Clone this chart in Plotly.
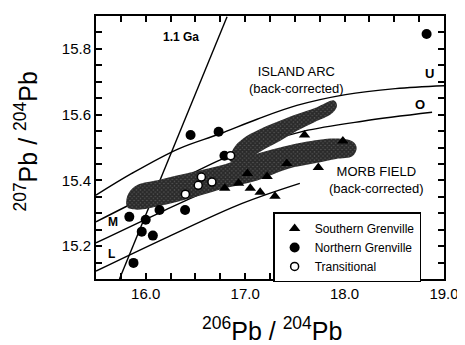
import plotly.graph_objects as go

# ---------------- data ----------------
# growth curves (206Pb/204Pb, 207Pb/204Pb)
u_x = [15.50, 15.86, 16.33, 16.74, 17.12, 17.52, 18.01, 18.51, 19.00]
u_y = [15.355, 15.421, 15.496, 15.541, 15.586, 15.628, 15.661, 15.679, 15.688]
o_x = [15.50, 16.15, 16.80, 17.22, 17.59, 18.18, 18.88]
o_y = [15.274, 15.373, 15.469, 15.517, 15.550, 15.580, 15.607]
m_x = [15.50, 16.15, 16.60, 16.95]
m_y = [15.210, 15.303, 15.365, 15.405]
l_x = [15.50, 16.23, 16.97, 17.55]
l_y = [15.124, 15.229, 15.330, 15.391]
iso_x = [15.736, 16.818]
iso_y = [15.100, 15.898]

# fields (outlines)
morb_x = [15.805, 15.835, 15.914, 16.151, 16.478, 16.805, 16.973, 17.320, 17.587,
          17.914, 18.082, 18.122, 18.082, 17.914, 17.686, 17.419, 17.122, 16.825,
          16.478, 16.151, 15.914, 15.815, 15.805]
morb_y = [15.340, 15.365, 15.386, 15.403, 15.426, 15.450, 15.468, 15.498, 15.516,
          15.527, 15.518, 15.499, 15.474, 15.465, 15.451, 15.434, 15.400, 15.378,
          15.348, 15.323, 15.311, 15.318, 15.340]
arc_x = [16.845, 16.884, 16.973, 17.152, 17.488, 17.716, 17.894, 17.924, 17.875,
         17.697, 17.518, 17.350, 17.201, 17.072, 16.973, 16.845]
arc_y = [15.460, 15.498, 15.526, 15.556, 15.598, 15.622, 15.643, 15.628, 15.604,
         15.577, 15.550, 15.520, 15.496, 15.472, 15.454, 15.460]

# samples
south_x = [17.597, 17.983, 17.736, 16.795, 16.934, 17.052, 17.151, 17.300, 17.221, 17.419, 17.023]
south_y = [15.538, 15.520, 15.439, 15.376, 15.391, 15.376, 15.364, 15.352, 15.412, 15.451, 15.421]
north_x = [16.451, 16.733, 16.792, 15.835, 16.000, 15.960, 16.072, 15.877, 16.139, 16.396, 18.825]
north_y = [15.538, 15.548, 15.475, 15.289, 15.280, 15.244, 15.232, 15.149, 15.310, 15.310, 15.845]
trans_x = [16.399, 16.528, 16.560, 16.666, 16.854]
trans_y = [15.358, 15.385, 15.410, 15.395, 15.475]

x_ticks = [16.0, 17.0, 18.0, 19.0]
y_ticks = [15.2, 15.4, 15.6, 15.8]

FONT = "Liberation Sans, Arial, sans-serif"

fig = go.Figure()

line_style = dict(color="black", width=1.4)
for cx, cy in [(u_x, u_y), (o_x, o_y), (m_x, m_y), (l_x, l_y), (iso_x, iso_y)]:
    fig.add_trace(go.Scatter(x=cx, y=cy, mode="lines", line=dict(**line_style, shape="spline"),
                             showlegend=False, hoverinfo="skip"))

for fx, fy in [(morb_x, morb_y), (arc_x, arc_y)]:
    fig.add_trace(go.Scatter(
        x=fx, y=fy, mode="lines", fill="toself", line=dict(width=0, shape="spline"),
        fillcolor="#111111",
        fillpattern=dict(shape="x", fgcolor="#000000", bgcolor="#555555", size=3, solidity=0.8),
        showlegend=False, hoverinfo="skip"))

fig.add_trace(go.Scatter(x=south_x, y=south_y, mode="markers", name="Southern Grenville",
                         marker=dict(symbol="triangle-up", size=10, color="black")))
fig.add_trace(go.Scatter(x=north_x, y=north_y, mode="markers", name="Northern Grenville",
                         marker=dict(symbol="circle", size=10, color="black")))
fig.add_trace(go.Scatter(x=trans_x, y=trans_y, mode="markers", name="Transitional",
                         marker=dict(symbol="circle", size=8, color="white",
                                     line=dict(color="black", width=1.5))))

ann = [
    dict(x=16.35, y=15.835, text="1.1 Ga", size=12, bold=True),
    dict(x=17.52, y=15.706, text="ISLAND ARC<br>(back-corrected)", size=13, bold=False),
    dict(x=18.32, y=15.40, text="MORB FIELD<br>(back-corrected)", size=13, bold=False),
    dict(x=18.85, y=15.724, text="U", size=13, bold=True),
    dict(x=18.76, y=15.631, text="O", size=13, bold=True),
    dict(x=15.667, y=15.274, text="M", size=12, bold=True),
    dict(x=15.657, y=15.177, text="L", size=12, bold=True),
]
for a in ann:
    t = f"<b>{a['text']}</b>" if a["bold"] else a["text"]
    fig.add_annotation(x=a["x"], y=a["y"], text=t, showarrow=False,
                       xanchor="center", yanchor="middle",
                       font=dict(family=FONT, size=a["size"], color="black"))

fig.add_annotation(xref="paper", yref="paper", x=0.506, y=-0.189,
                   xanchor="center", yanchor="middle",
                   text="<sup>206</sup>Pb / <sup>204</sup>Pb", showarrow=False,
                   font=dict(family=FONT, size=25, color="black"))
fig.add_annotation(xref="paper", yref="paper", x=-0.20, y=0.524, textangle=-90,
                   xanchor="center", yanchor="middle",
                   text="<sup>207</sup>Pb / <sup>204</sup>Pb", showarrow=False,
                   font=dict(family=FONT, size=25, color="black"))

axis_common = dict(showline=True, linecolor="black", linewidth=2, mirror="allticks",
                   ticks="inside", ticklen=6, tickwidth=1.5, tickcolor="black",
                   showgrid=False, zeroline=False,
                   tickfont=dict(family=FONT, size=15, color="black"))

fig.update_xaxes(range=[15.5, 19.0], tickvals=x_ticks, ticktext=[f"{v:.1f}" for v in x_ticks],
                 minor=dict(dtick=0.25, tick0=15.5, ticks="inside", ticklen=6, tickwidth=1.5,
                            tickcolor="black", showgrid=False),
                 **axis_common)
fig.update_yaxes(range=[15.1, 15.9], tickvals=y_ticks, ticktext=[f"{v:.1f}" for v in y_ticks],
                 minor=dict(dtick=0.05, tick0=15.1, ticks="inside", ticklen=6, tickwidth=1.5,
                            tickcolor="black", showgrid=False),
                 **axis_common)

# page body has an 8px margin, so the figure is sized to fit the 465x345 window
fig.update_layout(
    width=457, height=337,
    margin=dict(l=88, r=15, t=6, b=66),
    paper_bgcolor="white", plot_bgcolor="white",
    font=dict(family=FONT, color="black"),
    showlegend=True,
    legend=dict(x=0.509, y=0.253, xanchor="left", yanchor="top",
                bgcolor="white", bordercolor="black", borderwidth=1.5,
                font=dict(family=FONT, size=12, color="black"),
                tracegroupgap=0, itemwidth=30),
)

fig.write_html("out.html")
